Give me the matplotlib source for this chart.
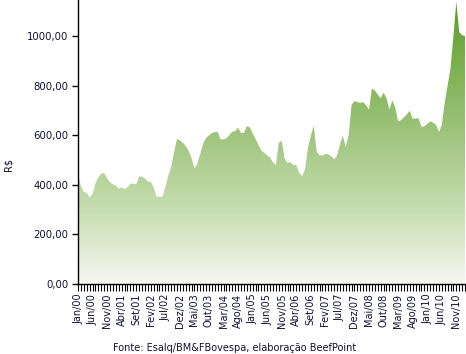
import numpy as np
import matplotlib
matplotlib.use("Agg")
import matplotlib.pyplot as plt
from matplotlib.colors import LinearSegmentedColormap

# boi gordo, R$ por cabeça, mensal Jan/00 .. Fev/11
precos = [
    444, 395, 371, 367, 350, 363, 405, 430, 445, 447,
    427, 410, 402, 396, 385, 389, 383, 390, 404, 405,
    402, 433, 433, 425, 413, 412, 389, 352, 352, 353,
    390, 435, 471, 530, 585, 579, 570, 556, 537, 509,
    466, 485, 524, 566, 589, 599, 608, 613, 613, 583,
    583, 588, 600, 614, 616, 631, 609, 609, 636, 632,
    607, 585, 561, 538, 529, 519, 510, 490, 479, 570,
    577, 505, 488, 491, 480, 480, 448, 435, 462, 548,
    597, 638, 534, 519, 518, 524, 523, 515, 503, 518,
    562, 598, 552, 600, 722, 737, 733, 730, 733, 720,
    703, 788, 780, 764, 749, 771, 749, 703, 740, 712,
    655, 661, 672, 684, 698, 667, 667, 669, 634, 635,
    645, 656, 650, 642, 612, 642, 730, 800, 870, 1000,
    1137, 1015, 1003, 1000,
]
meses_pt = ["Jan", "Fev", "Mar", "Abr", "Mai", "Jun",
            "Jul", "Ago", "Set", "Out", "Nov", "Dez"]
yticks = [0, 200, 400, 600, 800, 1000]
fonte = "Fonte: Esalq/BM&FBovespa, elaboração BeefPoint"

n = len(precos)
x = np.arange(n)
ymax = 1145

fig = plt.figure(figsize=(4.66, 3.54), dpi=100)
ax = fig.add_axes([0.1674, 0.1977, 0.8306, 0.8023])

# gradient fill clipped to the area under the curve
cmap = LinearSegmentedColormap.from_list(
    "verde", ["#f7f7f2", "#c9dfb3", "#a3c783", "#7fb252", "#5c9c27"])
grad = np.linspace(0, 1, 256).reshape(-1, 1)
img = ax.imshow(grad, cmap=cmap, origin="lower", aspect="auto",
                extent=[0, n - 1, 0, ymax], zorder=1)
poly = ax.fill_between(x, precos, 0, color="none", lw=0)
img.set_clip_path(poly.get_paths()[0], transform=ax.transData)

ax.set_xlim(0, n - 1)
ax.set_ylim(0, ymax)

ax.spines["top"].set_visible(False)
ax.spines["right"].set_visible(False)
for s in ("left", "bottom"):
    ax.spines[s].set_color("black")
    ax.spines[s].set_linewidth(1.0)
    ax.spines[s].set_zorder(3)

ax.set_yticks(yticks)
ax.set_yticklabels([f"{v:.2f}".replace(".", ",") for v in yticks])
ax.tick_params(axis="y", length=4, width=1, pad=3, labelsize=7.3,
               labelcolor="#111133")

labels = [f"{meses_pt[i % 12]}/{(i // 12) % 100:02d}" for i in range(n)]
ax.set_xticks(x[::5])
ax.set_xticklabels(labels[::5], rotation=90)
ax.set_xticks(x, minor=True)
ax.tick_params(axis="x", which="both", length=5, width=0.8, pad=2,
               labelsize=7, labelcolor="#111133")

fig.text(0.018, 0.535, "R$", rotation=90, fontsize=7, color="#111133",
         ha="center", va="center")
fig.text(0.503, 0.017, fonte, fontsize=7, color="#111133",
         ha="center", va="center")

fig.savefig("out.png", dpi=100)
